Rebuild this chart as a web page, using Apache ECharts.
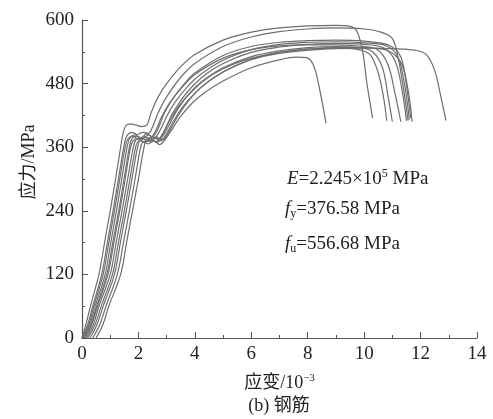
<!DOCTYPE html>
<html>
<head>
<meta charset="utf-8">
<script src="https://cdn.jsdelivr.net/npm/echarts@6/dist/echarts.min.js"></script>
<style>
  html, body { margin: 0; padding: 0; background: #fff; }
  #chart { width: 493px; height: 419px; }
</style>
</head>
<body>
<div id="chart"></div>
<script>
// stress-strain curves of rebar specimens: [strain (10^-3), stress (MPa)]
const specimen1 = [[0,0],[0.15,28],[0.3,60],[0.6,120],[0.8,180],[1.0,240],[1.19,300],[1.37,360],[1.45,385],[1.55,400],[1.7,404],[1.9,402],[2.1,399],[2.3,402],[2.45,425],[2.7,455],[3.0,480],[3.5,512],[4.0,535],[5.0,562],[6.0,577],[7.0,585],[8.0,589],[9.0,590],[9.5,588],[9.75,578],[9.95,540],[10.1,480],[10.3,415]];
const specimen2 = [[0,0],[0.2,25],[0.38,60],[0.7,120],[0.9,180],[1.1,240],[1.29,300],[1.48,360],[1.58,380],[1.75,388],[1.95,384],[2.15,388],[2.35,386],[2.5,398],[2.7,425],[3.0,455],[3.5,492],[4.0,518],[5.0,550],[6.0,568],[7.0,578],[8.0,583],[9.0,585],[10.0,583],[10.6,577],[11.0,565],[11.2,530],[11.4,468],[11.56,410]];
const specimen3 = [[0.08,0],[0.32,25],[0.52,60],[0.88,120],[1.09,180],[1.3,240],[1.49,300],[1.68,360],[1.78,377],[1.95,381],[2.15,376],[2.35,383],[2.55,378],[2.75,390],[3.0,418],[3.3,445],[3.7,472],[4.2,497],[5.0,524],[6.0,544],[7.0,554],[8.0,558],[9.0,559],[10.0,557],[10.8,551],[11.2,530],[11.45,472],[11.6,412]];
const specimen4 = [[0.15,0],[0.4,25],[0.6,60],[1.0,120],[1.21,180],[1.42,240],[1.62,300],[1.82,360],[1.92,375],[2.1,378],[2.3,373],[2.5,380],[2.7,375],[2.9,388],[3.15,418],[3.5,448],[3.9,474],[4.4,498],[5.0,518],[6.0,539],[7.0,549],[8.0,554],[9.0,556],[10.0,554],[10.7,547],[11.1,522],[11.35,466],[11.5,410]];
const specimen5 = [[0.02,0],[0.24,25],[0.42,60],[0.75,120],[0.95,180],[1.15,240],[1.34,300],[1.53,360],[1.63,376],[1.8,381],[2.0,375],[2.2,380],[2.4,377],[2.6,390],[2.8,415],[3.1,443],[3.5,470],[4.0,497],[5.0,528],[6.0,544],[7.0,551],[8.0,553],[9.0,553],[10.0,550],[10.5,543],[10.85,515],[11.1,460],[11.3,408]];
const specimen6 = [[0.28,0],[0.53,25],[0.75,60],[1.15,120],[1.36,180],[1.57,240],[1.77,300],[1.97,360],[2.07,372],[2.25,370],[2.45,376],[2.65,369],[2.85,380],[3.05,398],[3.35,428],[3.75,458],[4.25,484],[5.0,510],[6.0,531],[7.0,542],[8.0,548],[9.0,550],[9.8,548],[10.3,540],[10.65,510],[10.85,455],[11.0,408]];
const specimen7 = [[0.1,0],[0.34,25],[0.55,60],[0.92,120],[1.13,180],[1.34,240],[1.53,300],[1.72,360],[1.82,373],[2.0,376],[2.2,369],[2.4,376],[2.6,370],[2.8,380],[3.05,405],[3.4,435],[3.8,460],[4.3,485],[5.0,508],[6.0,528],[7.0,539],[8.0,545],[9.0,547],[9.7,545],[10.2,535],[10.5,500],[10.7,450],[10.8,410]];
const specimen8 = [[0.5,0],[0.74,25],[0.95,60],[1.37,120],[1.58,180],[1.79,240],[2.0,300],[2.2,360],[2.3,376],[2.45,372],[2.65,379],[2.85,374],[3.05,386],[3.3,410],[3.7,442],[4.2,472],[5.0,502],[6.0,526],[7.0,539],[8.0,545],[9.0,548],[10.0,548],[10.8,543],[11.3,520],[11.55,470],[11.7,408]];
const specimen9 = [[0.05,0],[0.28,25],[0.47,60],[0.82,120],[1.02,180],[1.22,240],[1.41,300],[1.6,360],[1.7,378],[1.88,383],[2.08,377],[2.28,385],[2.48,380],[2.68,393],[2.9,422],[3.2,450],[3.6,478],[4.0,500],[5.0,533],[6.0,550],[7.0,558],[8.0,561],[9.0,562],[10.0,560],[10.9,552],[11.3,530],[11.5,476],[11.65,415]];
const specimen10 = [[0.2,0],[0.46,25],[0.68,60],[1.08,120],[1.29,180],[1.5,240],[1.7,300],[1.9,360],[2.0,372],[2.18,375],[2.38,370],[2.58,377],[2.78,372],[2.98,384],[3.25,410],[3.6,438],[4.0,462],[4.5,485],[5.0,502],[6.0,525],[7.0,537],[8.0,543],[9.0,546],[10.0,547],[11.0,546],[11.8,543],[12.2,535],[12.5,505],[12.7,460],[12.9,410]];
const specimen11 = [[0.38,0],[0.63,25],[0.85,60],[1.25,120],[1.47,180],[1.68,240],[1.88,300],[2.08,360],[2.18,370],[2.35,366],[2.55,372],[2.75,365],[2.95,375],[3.15,390],[3.45,415],[3.9,443],[4.4,465],[5.0,485],[6.0,510],[7.0,525],[7.6,530],[7.95,529],[8.2,515],[8.4,475],[8.65,405]];

const specimens = [specimen1, specimen2, specimen3, specimen4, specimen5, specimen6,
                   specimen7, specimen8, specimen9, specimen10, specimen11];

// annotation lines (material properties)
const modulusText = '{i|E}=2.245×10{sup|5} MPa';
const yieldText = '{i|f}{sub|y}=376.58 MPa';
const ultimateText = '{i|f}{sub|u}=556.68 MPa';

const SERIF = '"Liberation Serif", "Noto Sans CJK SC", serif';
const LINE_COL = '#6e6e6e';
const AXIS_COL = '#555';
const TEXT_COL = '#222';

const rich = {
  i: { fontFamily: SERIF, fontStyle: 'italic', fontSize: 19, lineHeight: 22, fill: TEXT_COL },
  sup: { fontFamily: SERIF, fontSize: 12, lineHeight: 12, verticalAlign: 'top', fill: TEXT_COL },
  sub: { fontFamily: SERIF, fontSize: 12, lineHeight: 12, verticalAlign: 'bottom', fill: TEXT_COL }
};

function noteText(text, x, y) {
  return {
    type: 'text', x: x, y: y,
    style: {
      text: text, rich: rich,
      fontFamily: SERIF, fontSize: 19, lineHeight: 22,
      fill: TEXT_COL, verticalAlign: 'middle'
    }
  };
}

const chart = echarts.init(document.getElementById('chart'), null, { renderer: 'canvas' });

chart.setOption({
  animation: false,
  backgroundColor: '#fff',
  grid: { left: 82, right: 16, top: 20, bottom: 81, containLabel: false },
  xAxis: {
    type: 'value', min: 0, max: 14, interval: 2,
    name: '应变/10{sup|−3}',
    nameLocation: 'middle', nameGap: 35,
    nameTextStyle: {
      fontFamily: SERIF, fontSize: 18, color: TEXT_COL, lineHeight: 20,
      rich: { sup: { fontFamily: SERIF, fontSize: 11, lineHeight: 11, verticalAlign: 'top', color: TEXT_COL } }
    },
    axisLine: { lineStyle: { color: AXIS_COL, width: 1.2 } },
    axisTick: { inside: true, length: 6, lineStyle: { color: AXIS_COL } },
    minorTick: { show: true, splitNumber: 2, length: 3, lineStyle: { color: AXIS_COL } },
    axisLabel: { fontFamily: SERIF, fontSize: 19, color: TEXT_COL, margin: 7 },
    splitLine: { show: false }
  },
  yAxis: {
    type: 'value', min: 0, max: 600, interval: 120,
    axisLine: { show: true, lineStyle: { color: AXIS_COL, width: 1.2 } },
    axisTick: { show: true, inside: true, length: 6, lineStyle: { color: AXIS_COL } },
    minorTick: { show: true, splitNumber: 2, length: 3, lineStyle: { color: AXIS_COL } },
    axisLabel: { fontFamily: SERIF, fontSize: 19, color: TEXT_COL, margin: 8 },
    splitLine: { show: false }
  },
  graphic: [
    {
      type: 'text', x: 29, y: 162, rotation: Math.PI / 2,
      style: { text: '应力/MPa', fontFamily: SERIF, fontSize: 18, fill: TEXT_COL, align: 'center', verticalAlign: 'middle' }
    },
    {
      type: 'text', x: 279, y: 406,
      style: { text: '(b) 钢筋', fontFamily: SERIF, fontSize: 18, fill: TEXT_COL, align: 'center', verticalAlign: 'middle' }
    },
    noteText(modulusText, 287, 179),
    noteText(yieldText, 285, 209),
    noteText(ultimateText, 285, 244)
  ],
  series: specimens.map(function (d, k) {
    return {
      name: 'S' + (k + 1),
      type: 'line',
      data: d,
      showSymbol: false,
      smooth: 0.35,
      silent: true,
      lineStyle: { color: LINE_COL, width: 1.2 }
    };
  })
});
</script>
</body>
</html>
